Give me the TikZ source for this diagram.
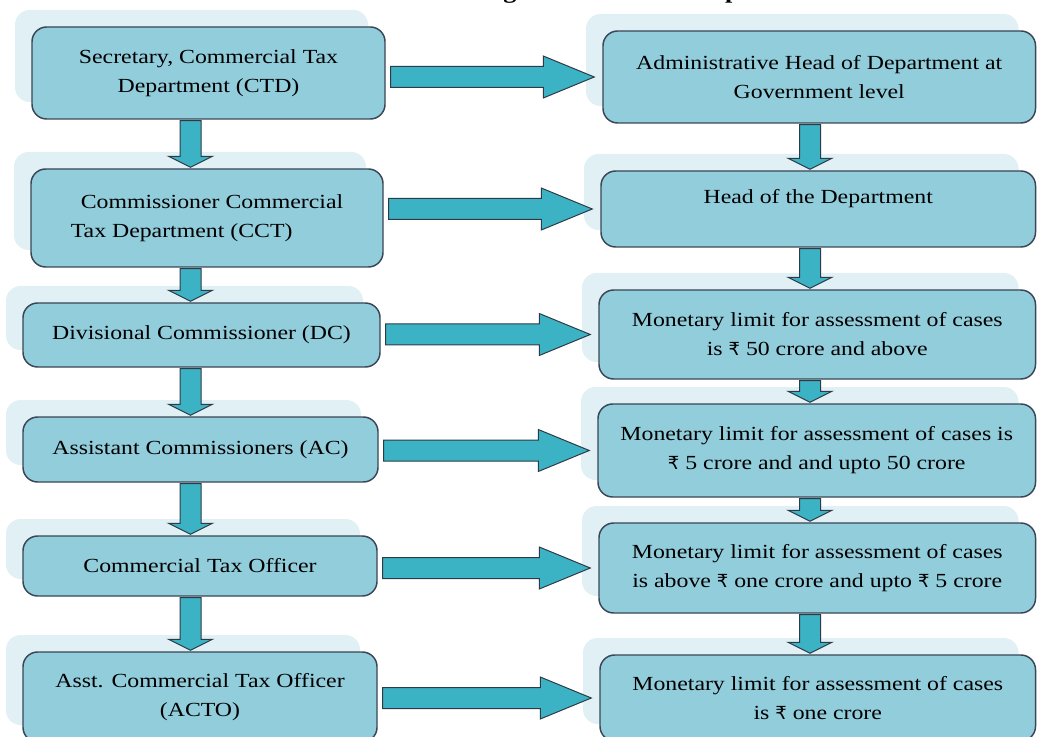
\documentclass[tikz,border=0pt]{standalone}
\usepackage{fontspec}
\setmainfont{Liberation Serif}[FakeStretch=1.19]
\newfontfamily\rupeefont{DejaVu Sans}
\newcommand{\rs}{{\rupeefont\fontsize{13.5pt}{21.75pt}\selectfont ₹}}
\usepackage{tikz}
\usetikzlibrary{calc,shadows}
\definecolor{BoxBlue}{HTML}{92CDDC}
\definecolor{BoxEdge}{HTML}{3A4656}
\definecolor{ShadowBlue}{HTML}{E0F0F4}
\definecolor{ArrowTeal}{HTML}{3CB3C4}
\definecolor{ArrowEdge}{HTML}{2E3B47}
\tikzset{
    post/.style={draw=BoxEdge, line width=1.1pt, fill=BoxBlue, rounded corners=11pt,
        align=center, inner sep=0pt, font=\fontsize{15pt}{21.75pt}\selectfont,
        copy shadow={shadow xshift=-12.75pt, shadow yshift=12.75pt, fill=ShadowBlue, draw=none}},
    postsize/.style 2 args={minimum width=#1*0.75pt, minimum height=#2*0.75pt},
    blockarrow/.style={draw=ArrowEdge, line width=0.75pt, fill=ArrowTeal, line join=miter},
    heading/.style={font=\fontsize{16.5pt}{20pt}\selectfont\bfseries, inner sep=0pt},
}
\newcommand{\harw}[2]{%
    \draw[blockarrow] let \p1=($(#1.east)+(5,0)$), \p2=($(#2.west)+(-8,0)$) in
        (\x1,\y2+7.875pt) -- (\x2-38.25pt,\y2+7.875pt) -- (\x2-38.25pt,\y2+15.75pt) -- (\x2,\y2)
        -- (\x2-38.25pt,\y2-15.75pt) -- (\x2-38.25pt,\y2-7.875pt) -- (\x1,\y2-7.875pt) -- cycle;}
\newcommand{\varw}[3]{%
    \draw[blockarrow] let \p1=(#2.south), \p2=(#3.north), \p3=(#1) in
        (\x3-7.875pt,\y1-0.75pt) -- (\x3-7.875pt,\y2+9pt) -- (\x3-16.5pt,\y2+9pt) -- (\x3,\y2+0.75pt)
        -- (\x3+16.5pt,\y2+9pt) -- (\x3+7.875pt,\y2+9pt) -- (\x3+7.875pt,\y1-0.75pt) -- cycle;}

\begin{document}
\begin{tikzpicture}[x=0.75pt,y=-0.75pt]
    \useasboundingbox (0,0) rectangle (1037,737);
    \node[heading, anchor=base west] (title) at (471,-1) {Organisation of the Department};

    \node[post, postsize={353}{92}] (sec) at (208.5,73) {Secretary, Commercial Tax\\Department (CTD)};
    \node[post, postsize={352}{98}, align=left] (cct) at (207,218) {\hspace*{7.5pt}Commissioner Commercial\\Tax Department (CCT)};
    \node[post, postsize={357}{64}] (dc) at (201.5,335) {Divisional Commissioner (DC)};
    \node[post, postsize={355}{65}] (ac) at (200.5,449.5) {Assistant Commissioners (AC)};
    \node[post, postsize={354}{60}] (cto) at (200,566) {Commercial Tax Officer};
    \node[post, postsize={354}{90}] (acto) at (200,697) {Asst. Commercial Tax Officer\\(ACTO)};

    \node[post, postsize={432.5}{92}] (admin) at (819.25,77) {Administrative Head of Department at\\Government level};
    \node[post, postsize={434.5}{76}] (hod) at (818.25,209) {\raisebox{7.5pt}[\height][\depth]{Head of the Department}};
    \node[post, postsize={436.5}{89}] (limdc) at (817.25,334.5) {Monetary limit for assessment of cases\\is \rs{} 50 crore and above};
    \node[post, postsize={437.5}{93}] (limac) at (816.75,450.5) {Monetary limit for assessment of cases is\\\rs{} 5 crore and and upto 50 crore};
    \node[post, postsize={436.5}{90}] (limcto) at (817.25,568) {Monetary limit for assessment of cases\\is above \rs{} one crore and upto \rs{} 5 crore};
    \node[post, postsize={435.5}{86}] (limacto) at (817.75,698) {Monetary limit for assessment of cases\\is \rs{} one crore};

    \coordinate (lcol) at (190.5,0);
    \coordinate (rcol) at (810,0);

    \harw{sec}{admin}
    \harw{cct}{hod}
    \harw{dc}{limdc}
    \harw{ac}{limac}
    \harw{cto}{limcto}
    \harw{acto}{limacto}

    \varw{lcol}{sec}{cct}
    \varw{lcol}{cct}{dc}
    \varw{lcol}{dc}{ac}
    \varw{lcol}{ac}{cto}
    \varw{lcol}{cto}{acto}
    \varw{rcol}{admin}{hod}
    \varw{rcol}{hod}{limdc}
    \varw{rcol}{limdc}{limac}
    \varw{rcol}{limac}{limcto}
    \varw{rcol}{limcto}{limacto}
\end{tikzpicture}
\end{document}
